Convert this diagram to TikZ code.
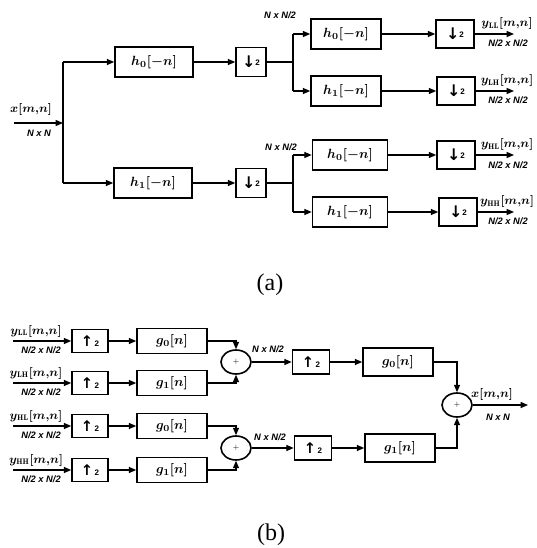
\documentclass[tikz,border=0pt]{standalone}
\usepackage{fontspec}
\newfontfamily\dimf{Liberation Sans}
\newfontfamily\capf{Liberation Serif}
\newfontfamily\symf{DejaVu Sans}
\usetikzlibrary{arrows.meta,shapes.geometric}
\newdimen\pxu \pxu=0.75pt
\newcommand\dsamp{{\symf\bfseries\fontsize{12}{12}\selectfont ↓}{\dimf\bfseries\fontsize{6}{6}\selectfont\raisebox{2pt}{2}}}
\newcommand\usamp{{\symf\bfseries\fontsize{11}{11}\selectfont ↑}{\dimf\bfseries\fontsize{6}{6}\selectfont\,2}}
\begin{document}
\begin{tikzpicture}[x=0.75pt,y=-0.75pt,line width=0.9pt,
  blk/.style={draw,line width=1.2pt,inner sep=0pt,font=\boldmath},
  hbox/.style={blk,minimum width=78\pxu,minimum height=30\pxu},
  hbox2/.style={blk,minimum width=70\pxu,minimum height=30\pxu},
  dbox/.style={blk,minimum width=30\pxu,minimum height=29\pxu},
  dbox2/.style={blk,minimum width=38\pxu,minimum height=28\pxu},
  ubox/.style={blk,minimum width=36\pxu,minimum height=23\pxu},
  ubox2/.style={blk,minimum width=37\pxu,minimum height=24\pxu},
  gbox/.style={blk,minimum width=70\pxu,minimum height=25\pxu},
  gbox2/.style={blk,minimum width=70\pxu,minimum height=28\pxu},
  sumn/.style={draw,ellipse,line width=1.2pt,minimum width=30\pxu,minimum height=24\pxu,inner sep=0pt,font=\tiny},
  arr/.style={-{Triangle[length=5.5pt,width=4.5pt]}},
  dimlab/.style={font=\dimf\bfseries\itshape\fontsize{7}{8}\selectfont,inner sep=0pt},
  sig/.style={font=\boldmath\fontsize{9}{10}\selectfont,inner sep=0pt},
  captxt/.style={font=\capf\fontsize{18}{20}\selectfont,inner sep=0pt}]
\useasboundingbox (0,0) rectangle (536,548);
% ---------------- (a) ----------------
\coordinate (ain) at (14,123);
\coordinate (asp) at (63,123);
\coordinate (aspt) at (63,62);
\coordinate (aspb) at (63,183);
\node[hbox] (h0) at (154,62) {$h_0[-n]$};
\node[dbox] (d0) at (251,62) {\dsamp};
\node[hbox] (h1) at (153,183) {$h_1[-n]$};
\node[dbox] (d1) at (251,183) {\dsamp};
\draw[arr] (ain) -- (asp);
\draw (aspt) -- (aspb);
\draw[arr] (aspt) -- (h0);
\draw[arr] (aspb) -- (h1);
\draw[arr] (h0) -- (d0);
\draw[arr] (h1) -- (d1);
\node[sig] (lx) at (31,110) {$x[m{,}n]$};
\node[dimlab] (lnn) at (39,133) {N x N};
% upper second level
\coordinate (q0) at (293,62);
\coordinate (q0t) at (293,34);
\coordinate (q0b) at (293,91);
\node[hbox2] (h00) at (346,34) {$h_0[-n]$};
\node[dbox2] (e00) at (455,34) {\dsamp};
\node[hbox2] (h01) at (346,91) {$h_1[-n]$};
\node[dbox2] (e01) at (456,91) {\dsamp};
\draw (d0) -- (q0);
\draw (q0t) -- (q0b);
\draw[arr] (q0t) -- (h00);
\draw[arr] (q0b) -- (h01);
\draw[arr] (h00) -- (e00);
\draw[arr] (h01) -- (e01);
\node[dimlab] (ln1) at (280,15) {N x N/2};
% lower second level
\coordinate (q1) at (293,183);
\coordinate (q1t) at (293,155);
\coordinate (q1b) at (293,212);
\node[blk,minimum width=75\pxu,minimum height=30\pxu] (h10) at (350,155) {$h_0[-n]$};
\node[dbox2] (e10) at (456,155) {\dsamp};
\node[blk,minimum width=75\pxu,minimum height=30\pxu] (h11) at (350,212) {$h_1[-n]$};
\node[dbox2] (e11) at (458,212) {\dsamp};
\draw (d1) -- (q1);
\draw (q1t) -- (q1b);
\draw[arr] (q1t) -- (h10);
\draw[arr] (q1b) -- (h11);
\draw[arr] (h10) -- (e10);
\draw[arr] (h11) -- (e11);
\node[dimlab] (ln2) at (281,147) {N x N/2};
% outputs
\coordinate (o00) at (514,34);
\coordinate (o01) at (514,91);
\coordinate (o10) at (514,155);
\coordinate (o11) at (514,212);
\draw[arr] (e00) -- (o00);
\draw[arr] (e01) -- (o01);
\draw[arr] (e10) -- (o10);
\draw[arr] (e11) -- (o11);
\node[sig] (ly1) at (507,24) {$y_{\mathrm{LL}}[m{,}n]$};
\node[dimlab] (lz1) at (508,43) {N/2 x N/2};
\node[sig] (ly2) at (507,81) {$y_{\mathrm{LH}}[m{,}n]$};
\node[dimlab] (lz2) at (508,100) {N/2 x N/2};
\node[sig] (ly3) at (507,145) {$y_{\mathrm{HL}}[m{,}n]$};
\node[dimlab] (lz3) at (508,165) {N/2 x N/2};
\node[sig] (ly4) at (507,202) {$y_{\mathrm{HH}}[m{,}n]$};
\node[dimlab] (lz4) at (508,221) {N/2 x N/2};
\node[captxt] (capa) at (270,285) {(a)};
% ---------------- (b) ----------------
\foreach \r/\yy/\g/\lab in {1/341/0/LL,2/383/1/LH,3/426/0/HL,4/470/1/HH}{
  \coordinate (i\r) at (13,\yy);
  \node[ubox] (u\r) at (90,\yy) {\usamp};
  \node[gbox] (g\r) at (172,\yy) {$g_\g[n]$};
  \draw[arr] (i\r) -- (u\r);
  \draw[arr] (u\r) -- (g\r);
  \node[sig] (yl\r) at (36,\yy-10) {$y_{\mathrm{\lab}}[m{,}n]$};
  \node[dimlab] (zl\r) at (41,\yy+9) {N/2 x N/2};
}
\node[sumn] (s1) at (236,362) {+};
\node[sumn] (s2) at (236,448) {+};
\draw[arr] (g1) -| (s1.north);
\draw[arr] (g2) -| (s1.south);
\draw[arr] (g3) -| (s2.north);
\draw[arr] (g4) -| (s2.south);
\node[ubox2] (v1) at (311,362) {\usamp};
\node[gbox2] (G1) at (398,362) {$g_0[n]$};
\node[ubox2] (v2) at (313,448) {\usamp};
\node[gbox2] (G2) at (400,448) {$g_1[n]$};
\draw[arr] (s1) -- (v1);
\draw[arr] (v1) -- (G1);
\draw[arr] (s2) -- (v2);
\draw[arr] (v2) -- (G2);
\node[dimlab] (m1) at (268,349) {N x N/2};
\node[dimlab] (m2) at (270,437) {N x N/2};
\node[sumn] (s3) at (457,405) {+};
\draw[arr] (G1) -| (s3.north);
\draw[arr] (G2) -| (s3.south);
\coordinate (bout) at (528,405);
\draw[arr] (s3) -- (bout);
\node[sig] (bx) at (492,394) {$x[m{,}n]$};
\node[dimlab] (bnn) at (498,417) {N x N};
\node[captxt] (capb) at (271,535) {(b)};
\end{tikzpicture}
\end{document}
